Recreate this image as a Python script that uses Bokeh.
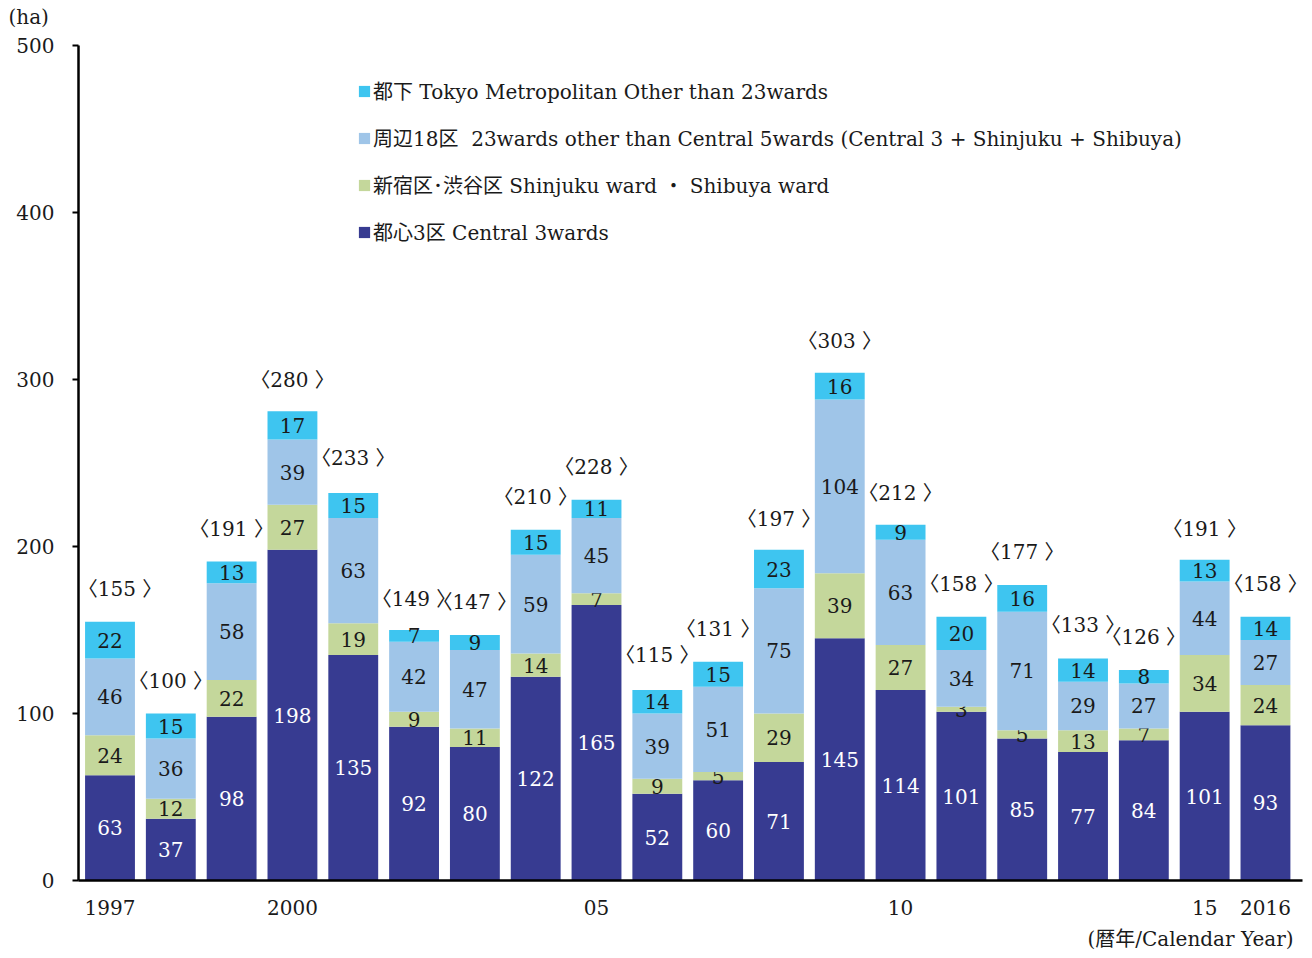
from bokeh.plotting import figure
from bokeh.models import ColumnDataSource, FixedTicker, Legend, LegendItem, Title
from bokeh.core.properties import value
from bokeh.embed import file_html
from bokeh.resources import INLINE

years = ["1997", "1998", "1999", "2000", "2001", "2002", "2003", "2004", "2005", "2006",
         "2007", "2008", "2009", "2010", "2011", "2012", "2013", "2014", "2015", "2016"]
tick_labels = {0: "1997", 3: "2000", 8: "05", 13: "10", 18: "15", 19: "2016"}
central3 = [63, 37, 98, 198, 135, 92, 80, 122, 165, 52, 60, 71, 145, 114, 101, 85, 77, 84, 101, 93]
shinjuku_shibuya = [24, 12, 22, 27, 19, 9, 11, 14, 7, 9, 5, 29, 39, 27, 3, 5, 13, 7, 34, 24]
other18 = [46, 36, 58, 39, 63, 42, 47, 59, 45, 39, 51, 75, 104, 63, 34, 71, 29, 27, 44, 27]
tokyo_other = [22, 15, 13, 17, 15, 7, 9, 15, 11, 14, 15, 23, 16, 9, 20, 16, 14, 8, 13, 14]
totals = [155, 100, 191, 280, 233, 149, 147, 210, 228, 115, 131, 197, 303, 212, 158, 177, 133, 126, 191, 158]

series = [
    ("都心3区 Central 3wards", central3, "#373B91", "white"),
    ("新宿区･渋谷区 Shinjuku ward ・ Shibuya ward", shinjuku_shibuya, "#C4D79B", "#1a1a1a"),
    ("周辺18区  23wards other than Central 5wards (Central 3 + Shinjuku + Shibuya)", other18, "#9FC5E8", "#1a1a1a"),
    ("都下 Tokyo Metropolitan Other than 23wards", tokyo_other, "#3EC5F0", "#1a1a1a"),
]

FONT = "'DejaVu Serif', 'Noto Sans CJK JP', serif"
FS = "20px"

p = figure(width=1310, height=958, output_backend="svg", toolbar_location=None,
           x_range=(-0.518, 19.609), y_range=(0, 500),
           min_border_left=78, min_border_right=8, min_border_top=45, min_border_bottom=78)
p.outline_line_color = None
p.xgrid.visible = False
p.ygrid.visible = False
p.background_fill_color = "white"

xs = list(range(len(years)))
bottom = [0] * len(years)
renderers = {}
for name, vals, color, tcolor in series:
    top = [b + v for b, v in zip(bottom, vals)]
    mid = [(b + t) / 2 for b, t in zip(bottom, top)]
    src = ColumnDataSource(dict(x=xs, bottom=bottom, top=top, mid=mid, lab=[str(v) for v in vals]))
    r = p.vbar(x="x", bottom="bottom", top="top", width=0.82, source=src,
               fill_color=color, line_color=None)
    renderers[name] = r
    p.text(x="x", y="mid", text="lab", source=src, text_align="center", text_baseline="middle",
           text_font=value(FONT), text_font_size=FS, text_color=tcolor)
    bottom = top

# first total label nudged right, clear of the axis
tsrc = ColumnDataSource(dict(x=xs, y=totals, lab=["〈%d 〉" % t for t in totals],
                             dx=[10 if i == 0 else 0 for i in xs]))
p.text(x="x", y="y", text="lab", source=tsrc, text_align="center", text_baseline="middle",
       x_offset="dx", y_offset=-33, text_font=value(FONT), text_font_size=FS, text_color="#1a1a1a")

# axes
p.yaxis.ticker = FixedTicker(ticks=[0, 100, 200, 300, 400, 500])
p.yaxis.major_tick_out = 6
p.yaxis.major_tick_in = 0
p.yaxis.minor_tick_line_color = None
p.yaxis.axis_line_width = 2.5
p.yaxis.major_tick_line_width = 2
p.yaxis.major_label_standoff = 18
p.yaxis.major_label_text_font = FONT
p.yaxis.major_label_text_font_size = FS
p.yaxis.major_label_text_color = "#1a1a1a"

p.xaxis.ticker = FixedTicker(ticks=list(tick_labels.keys()))
p.xaxis.major_label_overrides = tick_labels
p.xaxis.major_tick_line_color = None
p.xaxis.minor_tick_line_color = None
p.xaxis.axis_line_width = 2.5
p.xaxis.major_label_standoff = 13
p.xaxis.major_label_text_font = FONT
p.xaxis.major_label_text_font_size = FS
p.xaxis.major_label_text_color = "#1a1a1a"

items = [LegendItem(label=s[0], renderers=[renderers[s[0]]]) for s in reversed(series)]
legend = Legend(items=items, location=(279, 634), padding=0, margin=0, spacing=18,
                glyph_width=14, glyph_height=14, label_height=22, label_standoff=2,
                label_text_font=FONT, label_text_font_size=FS, label_text_color="#1a1a1a",
                background_fill_alpha=0, border_line_color=None)
p.add_layout(legend, "center")

p.add_layout(Title(text="(暦年/Calendar Year)", align="right", offset=9, standoff=14,
                   text_font=FONT, text_font_size=FS, text_font_style="normal",
                   text_color="#1a1a1a"), "below")

# blank spacer title next to the frame, so that the unit title sits higher
p.add_layout(Title(text=" ", text_font_size="1px", standoff=12), "above")
p.add_layout(Title(text="(ha)", align="left", offset=-70, standoff=4,
                   text_font=FONT, text_font_size=FS, text_font_style="normal",
                   text_color="#1a1a1a"), "above")

open("out.html", "w").write(file_html(p, INLINE))
